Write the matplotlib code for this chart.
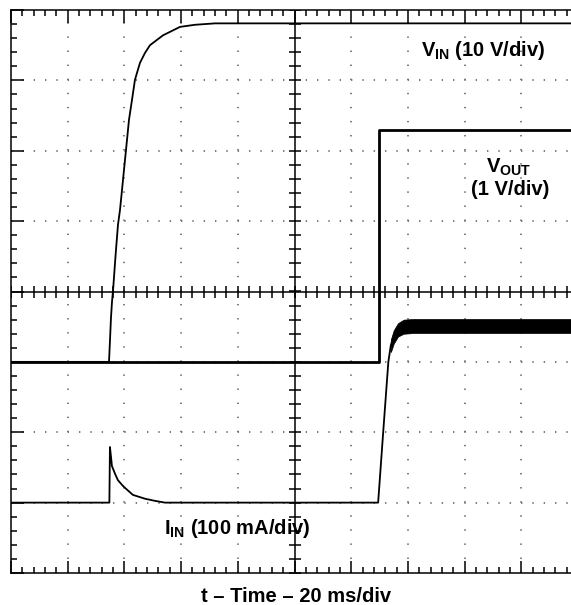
import numpy as np
import matplotlib.pyplot as plt
from matplotlib.ticker import MultipleLocator

plt.rcParams['font.family'] = ['Liberation Sans', 'DejaVu Sans']
plt.rcParams['mathtext.fontset'] = 'custom'
plt.rcParams['mathtext.rm'] = 'Liberation Sans:bold'
plt.rcParams['mathtext.bf'] = 'Liberation Sans:bold'
plt.rcParams['mathtext.it'] = 'Liberation Sans:bold'
plt.rcParams['lines.scale_dashes'] = False

# time axis in ms (20 ms/div, 10 divisions)
vin_t = [0, 34.57, 34.92, 35.27, 35.62, 35.98, 36.33, 36.68, 37.03, 37.74, 38.45,
         39.15, 39.86, 40.56, 41.62, 42.67, 43.73, 45.50, 47.26, 49.03, 53.61,
         59.61, 64.90, 71.95, 200]
vin_v = [0, 0, 3.1, 6.3, 8.5, 10.1, 12.0, 14.0, 15.9, 19.5, 21.6,
         24.4, 27.3, 30.1, 34.4, 37.2, 40.1, 42.5, 43.9, 45.0, 46.4,
         47.6, 47.9, 48.1, 48.1]

vout_t = [0, 129.8, 129.8, 200]
vout_v = [0, 0, 3.3, 3.3]

iin_t = [0, 34.7, 34.9, 35.3, 35.6, 36.7, 37.7, 39.2, 40.2, 43.0, 47.3, 50.8,
         54.3, 129.5, 131.3, 133.1, 134.0, 135.1, 136.5, 139.0, 200]
iin_ma = [0, 0, 79, 64, 52, 41, 32, 25, 21, 11, 5.5, 2.5,
          0, 0, 101, 200, 224, 238, 248, 253, 251]

# switching ripple envelope on the input current once the output is up
rip_t = [134.0, 135.0, 136.5, 138.5, 142.0, 200]
rip_hi = [232, 245, 255, 260, 261, 261]
rip_lo = [214, 226, 236, 240, 241, 241]

# channel settings: (ground position in div, units per div)
VIN_POS, VIN_SCALE = -1, 10
VOUT_POS, VOUT_SCALE = -1, 1
IIN_POS, IIN_SCALE = -3, 100


def to_div(vals, pos, scale):
    return np.asarray(vals, dtype=float) / scale + pos


fig = plt.figure(figsize=(5.71, 6.05), dpi=100)
ax = fig.add_axes([11 / 571, 32 / 605, 567 / 571, 563 / 605])
ax.set_xlim(0, 200)
ax.set_ylim(-4, 4)

# dotted graticule
for t in range(20, 200, 20):
    if t == 100:
        continue
    ax.plot([t, t], [-4, 4], color='#707070', lw=1.3, ls=(0, (1.0, 9.14)), zorder=1)
for d in range(-3, 4):
    if d == 0:
        continue
    ax.plot([0, 200], [d, d], color='#707070', lw=1.3, ls=(0, (1.0, 7.16)), zorder=1)

# centre cross with tick marks
ax.axhline(0, color='k', lw=1.1, zorder=2)
ax.axvline(100, color='k', lw=1.1, zorder=2)
xs = np.arange(0, 201, 4)
ax.plot(xs, np.zeros_like(xs), ls='', marker='|', ms=8, mew=1.1, color='k', zorder=2)
ys = np.arange(-4, 4.01, 0.2)
ax.plot(np.full_like(ys, 100), ys, ls='', marker='_', ms=8, mew=1.1, color='k', zorder=2)

# traces
ax.plot(vin_t, to_div(vin_v, VIN_POS, VIN_SCALE), color='k', lw=1.3, zorder=4)
ax.plot(vout_t, to_div(vout_v, VOUT_POS, VOUT_SCALE), color='k', lw=2.0, zorder=4)
ax.plot(iin_t, to_div(iin_ma, IIN_POS, IIN_SCALE), color='k', lw=1.3, zorder=4)
ax.fill_between(rip_t, to_div(rip_lo, IIN_POS, IIN_SCALE), to_div(rip_hi, IIN_POS, IIN_SCALE),
                color='k', lw=0.5, zorder=4)

# frame and border ticks
ax.spines['right'].set_visible(False)
for s in ['left', 'top', 'bottom']:
    ax.spines[s].set_linewidth(1.1)
ax.xaxis.set_major_locator(MultipleLocator(20))
ax.xaxis.set_minor_locator(MultipleLocator(4))
ax.yaxis.set_major_locator(MultipleLocator(1))
ax.yaxis.set_minor_locator(MultipleLocator(0.2))
ax.tick_params(which='both', direction='in', top=True, bottom=True, left=True, right=False,
               labelbottom=False, labelleft=False, width=1.1)
ax.tick_params(which='major', length=9)
ax.tick_params(which='minor', length=4)

# channel labels
ax.text(166.5, 3.35, r'V$_{\mathrm{IN}}$ (10 V/div)', fontsize=14.5, fontweight='bold',
        ha='center', va='baseline')
ax.text(175.5, 1.685, r'V$_{\mathrm{OUT}}$', fontsize=14.5, fontweight='bold',
        ha='center', va='baseline')
ax.text(176, 1.37, '(1 V/div)', fontsize=14.5, fontweight='bold', ha='center', va='baseline')
ax.text(79.7, -3.44, r'I$_{\mathrm{IN}}$ (100 mA/div)', fontsize=14.5, fontweight='bold',
        ha='center', va='baseline')

fig.text(296 / 571, 3 / 605, 't \u2013 Time \u2013 20 ms/div', fontsize=14.5, fontweight='bold',
         ha='center', va='baseline')

fig.savefig('out.png', dpi=100)
